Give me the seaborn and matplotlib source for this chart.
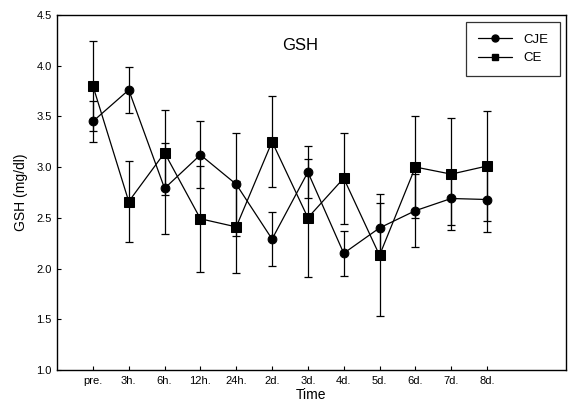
import numpy as np
import pandas as pd
import seaborn as sns
import matplotlib
matplotlib.use("Agg")
import matplotlib.pyplot as plt

# ---- data ----
time_labels = ["pre.", "3h.", "6h.", "12h.", "24h.", "2d.", "3d.", "4d.", "5d.", "6d.", "7d.", "8d."]
cje_mean = [3.45, 3.76, 2.79, 3.12, 2.83, 2.29, 2.95, 2.15, 2.40, 2.57, 2.69, 2.68]
cje_sd   = [0.20, 0.23, 0.45, 0.33, 0.51, 0.27, 0.26, 0.22, 0.25, 0.36, 0.26, 0.32]
ce_mean  = [3.80, 2.66, 3.14, 2.49, 2.41, 3.25, 2.50, 2.89, 2.13, 3.00, 2.93, 3.01]
ce_sd    = [0.44, 0.40, 0.42, 0.52, 0.45, 0.45, 0.58, 0.45, 0.60, 0.50, 0.55, 0.54]
y_ticks = [1.0, 1.5, 2.0, 2.5, 3.0, 3.5, 4.0, 4.5]

sns.set_theme(style="white")
plt.rcParams['font.family'] = ['Liberation Sans', 'DejaVu Sans']
for k in ["text.color", "axes.labelcolor", "xtick.color", "ytick.color"]:
    plt.rcParams[k] = "black"

pos = np.arange(1, len(time_labels) + 1)
df = pd.DataFrame({
    "pos": np.concatenate([pos, pos]),
    "value": cje_mean + ce_mean,
    "sd": cje_sd + ce_sd,
    "group": ["CJE"] * len(pos) + ["CE"] * len(pos),
})

fig = plt.figure(figsize=(5.71, 4.12), dpi=100)
ax = fig.add_axes([0.100, 0.102, 0.891, 0.862])

# error bars
for g in ["CJE", "CE"]:
    sub = df[df.group == g]
    ax.errorbar(sub["pos"], sub["value"], yerr=sub["sd"], fmt="none",
                ecolor="black", elinewidth=0.9, capsize=3, capthick=0.9, zorder=2)

sns.lineplot(data=df, x="pos", y="value", hue="group", style="group",
             hue_order=["CJE", "CE"], style_order=["CJE", "CE"],
             palette={"CJE": "black", "CE": "black"},
             markers={"CJE": "o", "CE": "s"}, dashes=False,
             markersize=7, linewidth=0.9, markeredgecolor="black",
             ax=ax, zorder=3, legend=False)

for ln in ax.lines:
    if ln.get_marker() == "o":
        ln.set_markersize(6.3)
    elif ln.get_marker() == "s":
        ln.set_markersize(7.3)

ax.set_xlim(0, 14.2)
ax.set_ylim(1.0, 4.5)
ax.set_xticks(pos)
ax.set_xticklabels(time_labels, fontsize=8)
ax.set_yticks(y_ticks)
ax.set_yticklabels([f"{v:.1f}" for v in y_ticks], fontsize=8)
ax.tick_params(direction="in", length=3, width=0.8, colors="black",
               bottom=True, left=True, top=False, right=False, pad=4)
for s in ax.spines.values():
    s.set_color("black")
    s.set_linewidth(1.0)

ax.set_xlabel("Time", fontsize=10, labelpad=2)
ax.set_ylabel("GSH (mg/dl)", fontsize=10, labelpad=6)
ax.text(0.477, 0.915, "GSH", transform=ax.transAxes, fontsize=12,
        ha="center", va="center")

from matplotlib.lines import Line2D
handles = [Line2D([], [], color="black", lw=0.9, marker="o", markersize=5),
           Line2D([], [], color="black", lw=0.9, marker="s", markersize=5)]
leg = ax.legend(handles, ["CJE", "CE"], loc="upper right",
                bbox_to_anchor=(0.988, 0.98), fontsize=9.5,
                frameon=True, fancybox=False, edgecolor="black",
                handlelength=2.6, borderpad=0.9, labelspacing=0.45,
                handletextpad=0.8, borderaxespad=0.0)
leg.get_frame().set_linewidth(0.9)

fig.savefig("out.png", dpi=100)
